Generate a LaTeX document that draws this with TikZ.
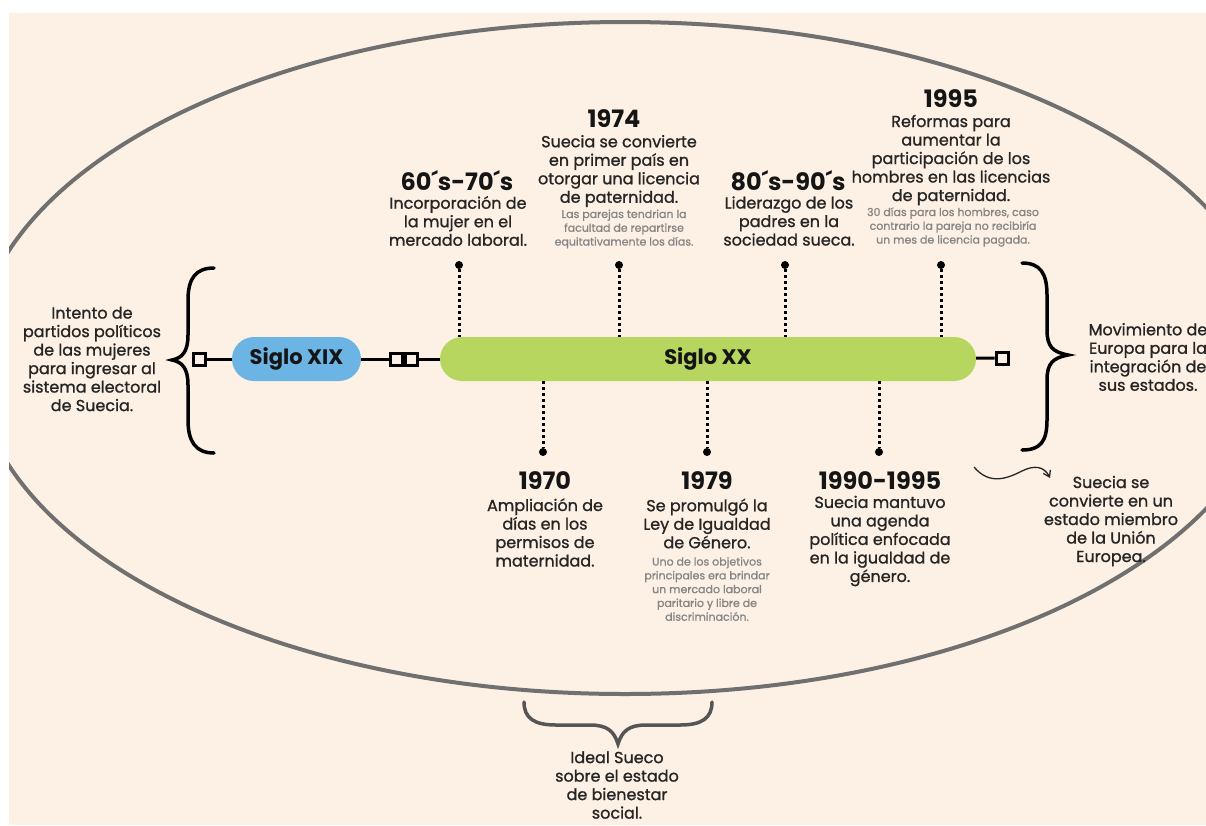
\documentclass[tikz,border=0pt]{standalone}
\usepackage{fontspec}
\setmainfont{Poppins}
\newfontfamily\bodyfont{Poppins}[FakeBold=1.1]
\newfontfamily\notefont{Poppins}[FakeBold=0.9]
\usetikzlibrary{arrows.meta}
\definecolor{cream}{HTML}{FCF1E4}
\definecolor{ringc}{HTML}{707070}
\definecolor{bluec}{HTML}{6CB4E4}
\definecolor{greenc}{HTML}{B7D65F}
\definecolor{titlec}{HTML}{151515}
\definecolor{bodyc}{HTML}{252525}
\definecolor{notec}{HTML}{858585}
\definecolor{bracec}{HTML}{555555}
\begin{document}
\begin{tikzpicture}[x=1pt,y=-1pt,
  title/.style={font=\fontsize{24}{26}\selectfont\bfseries, text=titlec, inner sep=0pt},
  body/.style={font=\bodyfont\fontsize{16}{18.5}\selectfont, align=center, text=bodyc, inner sep=0pt},
  note/.style={font=\notefont\fontsize{11}{13.8}\selectfont, align=center, text=notec, inner sep=0pt},
  pill/.style={rounded corners=22pt, minimum height=44pt, inner sep=0pt, font=\fontsize{21}{24}\selectfont\bfseries, text=titlec},
  sq/.style={draw=black, fill=cream, line width=3pt, minimum size=12pt, inner sep=0pt},
  link/.style={draw=black, line width=3pt},
  dotline/.style={draw=black, line width=3pt, dash pattern=on 3pt off 3pt},
  dot/.style={circle, fill=black, minimum size=8pt, inner sep=0pt},
  brace/.style={draw=black, line width=3.5pt, line cap=round},
]
\useasboundingbox (0,0) rectangle (1206,825);
\fill[white] (0,0) rectangle (1206,825);
\fill[cream] (9,13) rectangle (1206,825);
\begin{scope}
  \clip (9,13) rectangle (1206,825);
  \draw[ringc, line width=4pt] (625,358) ellipse [x radius=650, y radius=336];
\end{scope}

% timeline
\node[sq] (s1) at (199,359) {};
\node[pill, fill=bluec, minimum width=129pt] (xix) at (296.5,359) {Siglo XIX};
\node[sq] (s2) at (396.5,359) {};
\node[sq] (s3) at (411.5,359) {};
\node[pill, fill=greenc, minimum width=536pt] (xx) at (708,359) {Siglo XX};
\node[sq] (s4) at (1002,358) {};
\draw[link] (s1) -- (xix);
\draw[link] (xix) -- (s2);
\draw[link] (s3) -- (xx);
\draw[link] (xx) -- (s4);

% dotted markers
\node[dot] (u1) at (459,265) {};
\node[dot] (u2) at (619,265) {};
\node[dot] (u3) at (785,265) {};
\node[dot] (u4) at (941,265) {};
\node[dot] (d1) at (543,452) {};
\node[dot] (d2) at (707,452) {};
\node[dot] (d3) at (879,452) {};
\foreach \u in {u1,u2,u3,u4} \draw[dotline] (\u) -- (\u |- xx.north);
\foreach \d in {d1,d2,d3} \draw[dotline] (\d |- xx.south) -- (\d);

% braces
\draw[brace] (214,268) .. controls (196,268) and (188,278) .. (188,300) -- (188,335)
  .. controls (188,352) and (182,358) .. (172,360) .. controls (182,362) and (188,368) .. (188,385)
  -- (188,420) .. controls (188,442) and (196,453) .. (214,453);
\draw[brace] (1022,263) .. controls (1040,263) and (1047,273) .. (1047,295) -- (1047,330)
  .. controls (1047,347) and (1053,352) .. (1068,355) .. controls (1053,358) and (1047,363) .. (1047,380)
  -- (1047,420) .. controls (1047,442) and (1040,450) .. (1022,450);
\draw[brace, bracec] (524,702) .. controls (524,718) and (534,725) .. (556,725) -- (590,725)
  .. controls (607,725) and (614,731) .. (618,744) .. controls (622,731) and (629,725) .. (646,725)
  -- (680,725) .. controls (702,725) and (712,718) .. (712,702);

% texts above
\node[title] (t1) at (457,181) {60´s-70´s};
\node[body] (b1) at (458,221) {Incorporación de\\la mujer en el\\mercado laboral.};
\node[title] (t2) at (614,119) {1974};
\node[body] (b2) at (619,171) {Suecia se convierte\\en primer país en\\otorgar una licencia\\de paternidad.};
\node[note] (n2) at (624,229) {Las parejas tendrian la\\facultad de repartirse\\equitativamente los días.};
\node[title] (t3) at (788,181) {80´s-90´s};
\node[body] (b3) at (789,221) {Liderazgo de los\\padres en la\\sociedad sueca.};
\node[title] (t4) at (951,99) {1995};
\node[body] (b4) at (951,160) {Reformas para\\aumentar la\\participación de los\\hombres en las licencias\\de paternidad.};
\node[note] (n4) at (953,227) {30 días para los hombres, caso\\contrario la pareja no recibiría\\un mes de licencia pagada.};

% texts below
\node[title] (t5) at (545,481) {1970};
\node[body] (b5) at (545,532.5) {Ampliación de\\días en los\\permisos de\\maternidad.};
\node[title] (t6) at (707,481) {1979};
\node[body] (b6) at (707,523.5) {Se promulgó la\\Ley de Igualdad\\de Género.};
\node[note] (n6) at (707,589) {Uno de los objetivos\\principales era brindar\\un mercado laboral\\paritario y libre de\\discriminación.};
\node[title] (t7) at (880,481) {1990-1995};
\node[body] (b7) at (880,541) {Suecia mantuvo\\una agenda\\política enfocada\\en la igualdad de\\género.};

% side texts
\node[body] (left) at (92,359) {Intento de\\partidos políticos\\de las mujeres\\para ingresar al\\sistema electoral\\de Suecia.};
\node[body] (right) at (1148,357) {Movimiento de\\Europa para la\\integración de\\sus estados.};
\node[body] (eu) at (1111,521) {Suecia se\\convierte en un\\estado miembro\\de la Unión\\Europea.};
\node[body] (bottom) at (617,785) {Ideal Sueco\\sobre el estado\\de bienestar\\social.};

% wavy arrow
\coordinate (wa) at (974,467);
\coordinate (wb) at (1050,478);
\draw[bodyc, line width=1.3pt, -{Straight Barb[length=6pt,width=8pt]}] (wa) .. controls (990,486) and (1008,478) .. (1022,471) .. controls (1034,465) and (1044,466) .. (wb);
\end{tikzpicture}
\end{document}
